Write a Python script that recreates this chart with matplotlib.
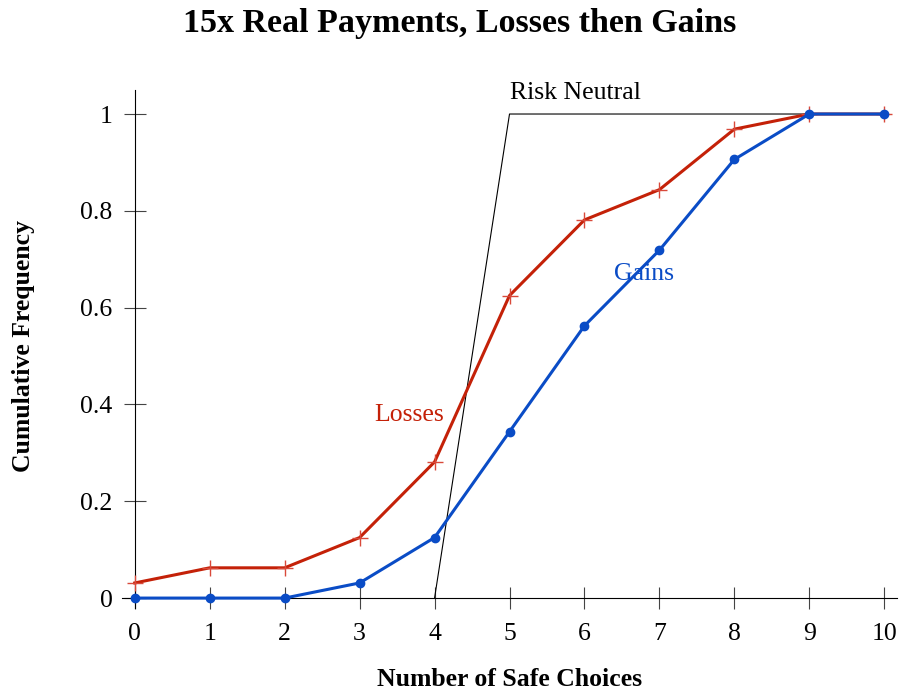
import matplotlib
matplotlib.use("Agg")
import matplotlib.pyplot as plt

choices = [0, 1, 2, 3, 4, 5, 6, 7, 8, 9, 10]
losses = [0.03125, 0.0625, 0.0625, 0.125, 0.28125, 0.625, 0.78125, 0.84375, 0.96875, 1.0, 1.0]
gains = [0.0, 0.0, 0.0, 0.03125, 0.125, 0.34375, 0.5625, 0.71875, 0.90625, 1.0, 1.0]
risk_x = [4, 5, 10]
risk_y = [0, 1, 1]
xticks = [0, 1, 2, 3, 4, 5, 6, 7, 8, 9, 10]
yticks = [0, 0.2, 0.4, 0.6, 0.8, 1.0]
yticklabels = ["0", "0.2", "0.4", "0.6", "0.8", "1"]

RED = "#c42108"
BLUE = "#0a4cc6"

plt.rcParams['font.family'] = ['Liberation Serif', 'DejaVu Serif']

fig = plt.figure(figsize=(9.01, 6.93), dpi=100)
ax = fig.add_axes([0.1354, 0.123, 0.8602, 0.7474])

ax.plot(risk_x, risk_y, color="black", lw=0.8, zorder=2)
ax.plot(choices, losses, color=RED, lw=2.2, marker="+", ms=11, mew=1.0,
        mec="#d9493a", zorder=3)
ax.plot(choices, gains, color=BLUE, lw=2.2, marker="o", ms=6, zorder=4)

ax.set_xlim(-0.17, 10.17)
ax.set_ylim(-0.02, 1.05)
ax.spines['left'].set_position(('data', 0))
ax.spines['bottom'].set_position(('data', 0))
ax.spines['top'].set_visible(False)
ax.spines['right'].set_visible(False)
ax.set_xticks(xticks)
ax.set_yticks(yticks)
ax.set_yticklabels(yticklabels)
ax.tick_params(direction='inout', length=16, width=0.8, labelsize=18.5,
               color="#444444")
ax.tick_params(axis='x', pad=10)
ax.tick_params(axis='y', pad=8)

ax.text(5.0, 1.043, "Risk Neutral", fontsize=18.5, color="black", ha="left", va="center")
ax.text(3.66, 0.378, "Losses", fontsize=18.5, color=RED, ha="center", va="center")
ax.text(6.8, 0.669, "Gains", fontsize=18.5, color=BLUE, ha="center", va="center")

fig.text(0.51, 0.966, "15x Real Payments, Losses then Gains", fontsize=24.5,
         fontweight="bold", ha="center", va="center")
fig.text(0.566, 0.02, "Number of Safe Choices", fontsize=18.5, fontweight="bold",
         ha="center", va="center")
fig.text(0.026, 0.5, "Cumulative Frequency", fontsize=18.5, fontweight="bold",
         ha="center", va="center", rotation=90)

fig.savefig("out.png", dpi=100)
